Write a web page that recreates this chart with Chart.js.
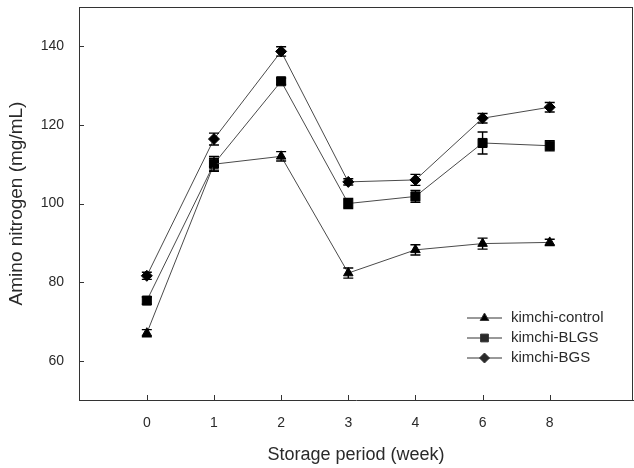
<!DOCTYPE html>
<html>
<head>
<meta charset="utf-8">
<script src="https://cdn.jsdelivr.net/npm/chart.js@4.4.1/dist/chart.umd.min.js"></script>
<style>
  html, body { margin: 0; padding: 0; background: #fff; overflow: hidden; }
  #wrap { width: 634px; height: 468px; }
  canvas { display: block; }
</style>
</head>
<body>
<div id="wrap"><canvas id="grafico" width="634" height="468"></canvas></div>
<script>
// datos
const semanas = ['0', '1', '2', '3', '4', '6', '8'];
const yTicks = [60, 80, 100, 120, 140];

const control = [67.0, 110.0, 112.0, 82.3, 88.2, 89.8, 90.1];
const blgs = [75.3, 110.1, 131.1, 100.0, 101.8, 115.4, 114.7];
const bgs = [81.6, 116.4, 138.7, 105.5, 106.0, 121.7, 124.5];

const errControl = [0.9, 1.5, 1.2, 1.3, 1.3, 1.4, 0.8];
const errBlgs = [0.9, 1.9, 0.8, 1.3, 1.5, 2.8, 1.3];
const errBgs = [0.9, 1.5, 1.2, 0.8, 1.4, 1.2, 1.2];

const nombres = ['kimchi-control', 'kimchi-BLGS', 'kimchi-BGS'];
const formas = ['triangle', 'rect', 'rectRot'];
const radios = [5.5, 6.4, 5.5];

const aPuntos = (vals) => vals.map((v, i) => ({ x: i, y: v }));

const series = [control, blgs, bgs];
const errores = [errControl, errBlgs, errBgs];

const colorTexto = '#2a2a2a';
const fuente = 'Liberation Sans, Arial, sans-serif';

// barras de error, ticks hacia dentro, marco y leyenda
const extras = {
  id: 'extras',
  afterDatasetsDraw(chart) {
    const ctx = chart.ctx;
    const xs = chart.scales.x;
    const ys = chart.scales.y;
    ctx.save();
    ctx.strokeStyle = '#000';
    ctx.lineWidth = 1.4;
    series.forEach((vals, s) => {
      vals.forEach((v, i) => {
        const px = xs.getPixelForValue(i);
        const top = ys.getPixelForValue(v + errores[s][i]);
        const bot = ys.getPixelForValue(v - errores[s][i]);
        ctx.beginPath();
        ctx.moveTo(px, top); ctx.lineTo(px, bot);
        ctx.moveTo(px - 5, top); ctx.lineTo(px + 5, top);
        ctx.moveTo(px - 5, bot); ctx.lineTo(px + 5, bot);
        ctx.stroke();
      });
    });
    ctx.restore();
  },
  afterDraw(chart) {
    const ctx = chart.ctx;
    const a = chart.chartArea;
    const xs = chart.scales.x;
    const ys = chart.scales.y;
    ctx.save();
    ctx.strokeStyle = '#333';
    ctx.lineWidth = 1;
    // marco superior y derecho
    const top = Math.round(a.top) + 0.5;
    const der = Math.round(a.right) - 0.5;
    ctx.beginPath();
    ctx.moveTo(a.left, top); ctx.lineTo(a.right, top);
    ctx.moveTo(der, a.top); ctx.lineTo(der, a.bottom);
    ctx.stroke();
    // ticks
    ctx.beginPath();
    yTicks.forEach(t => {
      const py = Math.round(ys.getPixelForValue(t)) + 0.5;
      ctx.moveTo(a.left, py); ctx.lineTo(a.left + 5, py);
    });
    semanas.forEach((s, i) => {
      const px = Math.round(xs.getPixelForValue(i)) + 0.5;
      ctx.moveTo(px, a.bottom); ctx.lineTo(px, a.bottom - 5);
    });
    ctx.stroke();
    // leyenda
    const lx = a.right - 166;
    nombres.forEach((n, k) => {
      const ly = a.top + 311 + k * 20;
      ctx.strokeStyle = '#333';
      ctx.beginPath();
      ctx.moveTo(lx, ly); ctx.lineTo(lx + 35, ly);
      ctx.stroke();
      Chart.helpers.drawPoint(ctx, { pointStyle: formas[k], radius: k === 1 ? 5.5 : 5, borderWidth: 1 }, lx + 17.5, ly);
      ctx.fillStyle = colorTexto;
      ctx.font = '15px ' + fuente;
      ctx.textBaseline = 'middle';
      ctx.textAlign = 'left';
      ctx.fillText(n, lx + 44, ly);
    });
    ctx.restore();
  }
};

const datasets = series.map((vals, s) => ({
  label: nombres[s],
  data: aPuntos(vals),
  borderColor: '#4a4a4a',
  borderWidth: 1,
  pointStyle: formas[s],
  pointRadius: radios[s],
  pointBackgroundColor: '#000',
  pointBorderColor: '#000',
  pointBorderWidth: 1,
  tension: 0
}));

new Chart(document.getElementById('grafico'), {
  type: 'line',
  data: { datasets },
  plugins: [extras],
  options: {
    responsive: false,
    animation: false,
    layout: { autoPadding: false, padding: { top: 7, right: 1, left: 0, bottom: 0 } },
    plugins: { legend: { display: false }, tooltip: { enabled: false } },
    scales: {
      x: {
        type: 'linear',
        min: -1.01,
        max: 7.24,
        afterBuildTicks: (scale) => { scale.ticks = semanas.map((s, i) => ({ value: i })); },
        afterFit: (scale) => {
          scale.height = 68;
          scale.paddingLeft = 0;
          scale.paddingRight = 0;
        },
        grid: { display: false, drawTicks: false },
        border: { display: true, color: '#333', width: 1 },
        ticks: {
          padding: 15,
          color: colorTexto,
          font: { family: fuente, size: 14 },
          callback: (v) => semanas[v] ?? ''
        },
        title: {
          display: true,
          text: 'Storage period (week)',
          color: colorTexto,
          font: { family: fuente, size: 18 },
          padding: { top: 0, bottom: 2 }
        }
      },
      y: {
        min: 50,
        max: 150,
        afterBuildTicks: (scale) => { scale.ticks = yTicks.map(v => ({ value: v })); },
        afterFit: (scale) => {
          scale.width = 79;
          scale.paddingTop = 0;
          scale.paddingBottom = 0;
        },
        grid: { display: false, drawTicks: false },
        border: { display: true, color: '#333', width: 1 },
        ticks: {
          padding: 15,
          color: colorTexto,
          font: { family: fuente, size: 14 }
        },
        title: {
          display: true,
          text: 'Amino nitrogen (mg/mL)',
          color: colorTexto,
          font: { family: fuente, size: 19 },
          padding: { top: 5, bottom: 0 }
        }
      }
    }
  }
});
</script>
</body>
</html>
